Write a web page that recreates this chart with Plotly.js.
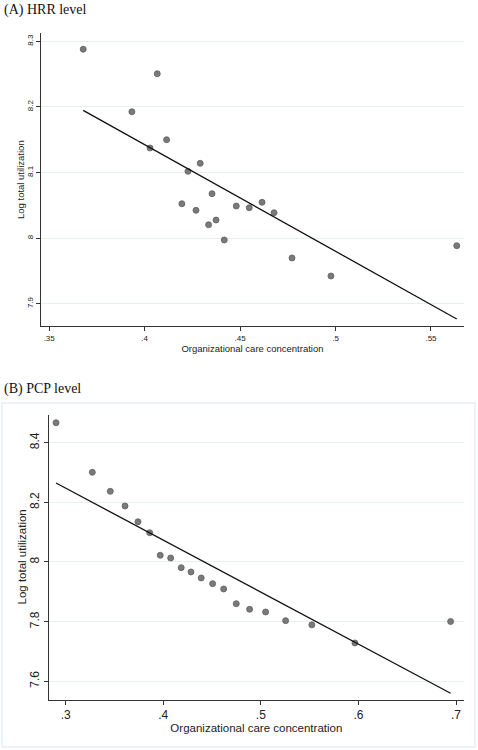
<!DOCTYPE html>
<html>
<head>
<meta charset="utf-8">
<script src="https://cdn.plot.ly/plotly-3.0.1.min.js"></script>
<style>html,body{margin:0;padding:0;background:#fff;}#chart{width:478px;height:750px;}</style>
</head>
<body>
<div id="chart"></div>
<script>
// Panel A: HRR level (binned scatter)
const hrrX = [0.3678, 0.4066, 0.3933, 0.4115, 0.4028, 0.4291, 0.4227, 0.4353, 0.4195, 0.4269,
              0.4480, 0.4335, 0.4374, 0.4417, 0.4548, 0.4615, 0.4678, 0.4772, 0.4976, 0.5635];
const hrrY = [8.288, 8.2506, 8.1927, 8.150, 8.1374, 8.114, 8.1018, 8.0677, 8.0524, 8.0424,
              8.0489, 8.0204, 8.0276, 7.9971, 8.0463, 8.0546, 8.0387, 7.9697, 7.9422, 7.9884];
const hrrFitX = [0.3678, 0.5635];
const hrrFitY = [8.1948, 7.8767];
const hrrXTicks = [0.35, 0.40, 0.45, 0.50, 0.55];
const hrrXTickText = [".35", ".4", ".45", ".5", ".55"];
const hrrYTicks = [7.9, 8.0, 8.1, 8.2, 8.3];
const hrrYTickText = ["7.9", "8", "8.1", "8.2", "8.3"];

// Panel B: PCP level (binned scatter)
const pcpX = [0.2901, 0.3273, 0.3457, 0.3608, 0.3741, 0.3861, 0.3969, 0.4076, 0.4184, 0.4284,
              0.4389, 0.4506, 0.4619, 0.4748, 0.4885, 0.5049, 0.5254, 0.5523, 0.5964, 0.6945];
const pcpY = [8.467, 8.3007, 8.237, 8.1877, 8.135, 8.098, 8.0224, 8.0133, 7.9808, 7.9664,
              7.9463, 7.9272, 7.9094, 7.860, 7.8413, 7.8323, 7.8032, 7.789, 7.7283, 7.8003];
const pcpFitX = [0.2901, 0.6945];
const pcpFitY = [8.2649, 7.5598];
const pcpXTicks = [0.3, 0.4, 0.5, 0.6, 0.7];
const pcpXTickText = [".3", ".4", ".5", ".6", ".7"];
const pcpYTicks = [7.6, 7.8, 8.0, 8.2, 8.4];
const pcpYTickText = ["7.6", "7.8", "8", "8.2", "8.4"];

const W = 478, H = 750;
const px = v => v / W;
const py = v => 1 - v / H;

const markerStyle = {color: '#7a7a7a', size: 6, line: {color: '#5e5e5e', width: 0.8}};
const lineStyle = {color: '#111', width: 1.3};

const traces = [
  {x: hrrX, y: hrrY, type: 'scatter', mode: 'markers', marker: markerStyle, xaxis: 'x', yaxis: 'y'},
  {x: hrrFitX, y: hrrFitY, type: 'scatter', mode: 'lines', line: lineStyle, xaxis: 'x', yaxis: 'y'},
  {x: pcpX, y: pcpY, type: 'scatter', mode: 'markers', marker: markerStyle, xaxis: 'x2', yaxis: 'y2'},
  {x: pcpFitX, y: pcpFitY, type: 'scatter', mode: 'lines', line: lineStyle, xaxis: 'x2', yaxis: 'y2'}
];

const axisCommon = {
  showline: true, linecolor: '#333', linewidth: 1,
  ticks: 'outside', ticklen: 4, tickcolor: '#333', tickwidth: 1,
  zeroline: false, tickmode: 'array', automargin: false
};

const sans = 'Liberation Sans, Arial, sans-serif';
const serif = 'Liberation Serif, Times New Roman, serif';

const layout = {
  width: W, height: H,
  margin: {l: 0, r: 0, t: 0, b: 0},
  paper_bgcolor: '#fff', plot_bgcolor: '#fff',
  showlegend: false,
  font: {family: sans, color: '#222'},
  xaxis: Object.assign({}, axisCommon, {
    domain: [px(41), px(464)], range: [0.3457, 0.5673], anchor: 'y',
    tickvals: hrrXTicks, ticktext: hrrXTickText, showgrid: false,
    tickfont: {size: 8, color: '#222'},
    title: {text: 'Organizational care concentration', font: {size: 9.5, color: '#222'}, standoff: 0}
  }),
  yaxis: Object.assign({}, axisCommon, {
    domain: [py(326), py(33)], range: [7.866, 8.3127], anchor: 'x',
    tickvals: hrrYTicks, ticktext: hrrYTickText, tickangle: -90,
    showgrid: true, gridcolor: '#e6eff1', gridwidth: 1,
    tickfont: {size: 8, color: '#222'}
  }),
  xaxis2: Object.assign({}, axisCommon, {
    domain: [px(48.7), px(464)], range: [0.2826, 0.7082], anchor: 'y2',
    tickvals: pcpXTicks, ticktext: pcpXTickText, showgrid: false,
    tickfont: {size: 12, color: '#222'},
    title: {text: 'Organizational care concentration', font: {size: 11.5, color: '#222'}, standoff: 1}
  }),
  yaxis2: Object.assign({}, axisCommon, {
    domain: [py(700), py(415)], range: [7.537, 8.493], anchor: 'x2',
    tickvals: pcpYTicks, ticktext: pcpYTickText, tickangle: -90,
    showgrid: true, gridcolor: '#e6eff1', gridwidth: 1,
    tickfont: {size: 12, color: '#222'}
  }),
  shapes: [
    {type: 'rect', xref: 'paper', yref: 'paper', x0: px(2), x1: px(475), y0: py(747), y1: py(403),
     line: {color: '#e8eff1', width: 1.5}, fillcolor: 'rgba(0,0,0,0)', layer: 'below'}
  ],
  annotations: [
    {text: '(A) HRR level', xref: 'paper', yref: 'paper', x: px(2), y: py(0), xanchor: 'left', yanchor: 'top',
     showarrow: false, font: {family: serif, size: 14, color: '#111'}},
    {text: '(B) PCP level', xref: 'paper', yref: 'paper', x: px(2), y: py(379), xanchor: 'left', yanchor: 'top',
     showarrow: false, font: {family: serif, size: 14, color: '#111'}},
    {text: 'Log total utilization', xref: 'paper', yref: 'paper', x: px(20), y: py(180), xanchor: 'center', yanchor: 'middle',
     textangle: -90, showarrow: false, font: {family: sans, size: 9.5, color: '#222'}},
    {text: 'Log total utilization', xref: 'paper', yref: 'paper', x: px(21.5), y: py(557), xanchor: 'center', yanchor: 'middle',
     textangle: -90, showarrow: false, font: {family: sans, size: 11.5, color: '#222'}}
  ]
};

Plotly.newPlot('chart', traces, layout, {displayModeBar: false, staticPlot: true});
</script>
</body>
</html>
